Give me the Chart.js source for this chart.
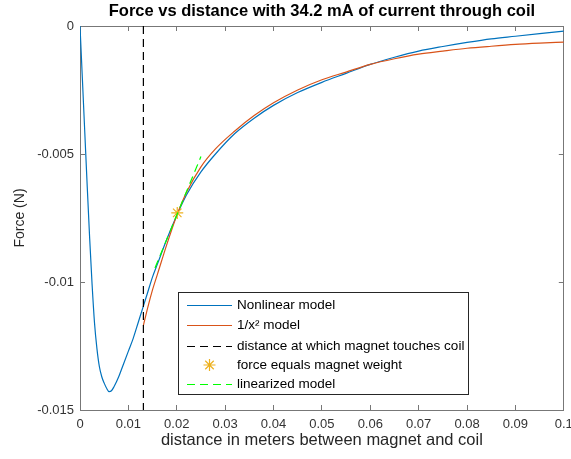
<!DOCTYPE html>
<html>
<head>
<meta charset="utf-8">
<title>Force vs distance</title>
<script src="https://cdn.jsdelivr.net/npm/chart.js@4.4.0/dist/chart.umd.min.js"></script>
<style>
  html, body { margin: 0; padding: 0; background: #fff; }
  canvas { display: block; }
</style>
</head>
<body>
<canvas id="chart_canvas" width="571" height="459"></canvas>
<script>
// values
var distNonlinear = [0, 0.0005, 0.001, 0.0015, 0.002, 0.0025, 0.003, 0.0035, 0.004, 0.0045, 0.005, 0.0055,
    0.006, 0.0065, 0.007, 0.008, 0.009, 0.010, 0.011, 0.012, 0.013, 0.014, 0.015, 0.016, 0.018, 0.020,
    0.022, 0.025, 0.028, 0.032, 0.036, 0.040, 0.045, 0.050, 0.055, 0.060, 0.065, 0.070, 0.075, 0.080,
    0.085, 0.090, 0.095, 0.100];
var forceNonlinear = [0, -0.0021, -0.0042, -0.0063, -0.0083, -0.0101, -0.0116, -0.0126, -0.0133, -0.0137, -0.01395, -0.01415,
    -0.01428, -0.01425, -0.0141, -0.0137, -0.0132, -0.0127, -0.0122, -0.0116, -0.0110, -0.0104, -0.0098, -0.0093, -0.0083, -0.0074,
    -0.0066, -0.0057, -0.0050, -0.0042, -0.0036, -0.0031, -0.0026, -0.0022, -0.00185, -0.0015, -0.00122, -0.00098, -0.0008, -0.00064,
    -0.0005, -0.0004, -0.0003, -0.0002];

var distInvSq = [0.0131, 0.014, 0.015, 0.016, 0.018, 0.020, 0.022, 0.025, 0.028, 0.032, 0.036, 0.040,
    0.045, 0.050, 0.055, 0.060, 0.065, 0.070, 0.075, 0.080, 0.085, 0.090, 0.095, 0.100];
var forceInvSq = [-0.0117, -0.0110, -0.0103, -0.0097, -0.0085, -0.0074, -0.0065, -0.0055, -0.0048, -0.0041, -0.0035, -0.0030,
    -0.0025, -0.0021, -0.0018, -0.0015, -0.00128, -0.0011, -0.00098, -0.00087, -0.00079, -0.00072, -0.00067, -0.00063];

var touchDist = [0.0131, 0.0131];
var touchForce = [0, -0.015];

var weightDist = [0.0201];
var weightForce = [-0.0073];

var linDist = [0.0155, 0.025];
var linForce = [-0.00945, -0.0051];

var xTickValues = [0, 0.01, 0.02, 0.03, 0.04, 0.05, 0.06, 0.07, 0.08, 0.09, 0.1];
var xTickLabels = ['0', '0.01', '0.02', '0.03', '0.04', '0.05', '0.06', '0.07', '0.08', '0.09', '0.1'];
var yTickValues = [-0.015, -0.01, -0.005, 0];
var yTickLabels = ['-0.015', '-0.01', '-0.005', '0'];

var labels = ['Nonlinear model', '1/x\u00B2 model', 'distance at which magnet touches coil',
    'force equals magnet weight', 'linearized model'];

function pts(xs, ys){
    return xs.map(function(x, i){ return {x: x, y: ys[i]}; });
}

var FONT = '"Liberation Sans", Arial, sans-serif';
var AXIS = '#777777';

function setTicks(values){
    return function(scale){
        scale.ticks = values.map(function(v){ return {value: v}; });
    };
}

function fixSize(w, h){
    return function(s){
        if (w !== null) s.width = w;
        if (h !== null) s.height = h;
        s.paddingLeft = 0; s.paddingRight = 0;
        s.paddingTop = 0; s.paddingBottom = 0;
    };
}

// MATLAB-like legend box inside the axes
var legendBox = {
    id: 'legendBox',
    afterDraw: function(chart){
        var ctx = chart.ctx;
        var rows = [305, 325, 346, 365, 384];
        ctx.save();
        ctx.fillStyle = '#fff';
        ctx.fillRect(178.5, 292.5, 290, 102);
        ctx.strokeStyle = '#262626';
        ctx.lineWidth = 1;
        ctx.strokeRect(178.5, 292.5, 290, 102);
        ctx.font = '13.5px ' + FONT;
        ctx.textBaseline = 'middle';
        ctx.textAlign = 'left';
        chart.data.datasets.forEach(function(ds, i){
            var y = rows[i];
            ctx.save();
            ctx.strokeStyle = ds.borderColor;
            ctx.lineWidth = ds.borderWidth;
            if (ds.showLine){
                ctx.setLineDash(ds.borderDash || []);
                ctx.beginPath();
                ctx.moveTo(187, y + 0.5);
                ctx.lineTo(232, y + 0.5);
                ctx.stroke();
            } else {
                Chart.helpers.drawPoint(ctx, {pointStyle: ds.pointStyle, radius: ds.pointRadius,
                    rotation: 0, borderWidth: ds.borderWidth}, 209.5, y);
            }
            ctx.restore();
            ctx.fillStyle = '#000';
            ctx.fillText(ds.label, 237, y);
        });
        ctx.restore();
    }
};

var canvas = document.getElementById('chart_canvas');
var force_chart = new Chart(canvas.getContext('2d'), {
    type: 'scatter',
    data: {
        datasets: [{
            label: labels[0],
            data: pts(distNonlinear, forceNonlinear),
            showLine: true,
            borderColor: '#0072BD',
            borderWidth: 1.2,
            pointRadius: 0,
            cubicInterpolationMode: 'monotone',
            order: 5
        }, {
            label: labels[1],
            data: pts(distInvSq, forceInvSq),
            showLine: true,
            borderColor: '#D95319',
            borderWidth: 1.2,
            pointRadius: 0,
            cubicInterpolationMode: 'monotone',
            order: 4
        }, {
            label: labels[2],
            data: pts(touchDist, touchForce),
            showLine: true,
            borderColor: '#000000',
            borderWidth: 1.2,
            borderDash: [8, 5],
            pointRadius: 0,
            order: 3
        }, {
            label: labels[3],
            data: pts(weightDist, weightForce),
            showLine: false,
            borderColor: '#EDB120',
            backgroundColor: '#EDB120',
            borderWidth: 1.2,
            pointStyle: 'star',
            pointRadius: 6,
            order: 2
        }, {
            label: labels[4],
            data: pts(linDist, linForce),
            showLine: true,
            borderColor: '#00FF00',
            borderWidth: 1.2,
            borderDash: [8, 5],
            pointRadius: 0,
            order: 1
        }]
    },
    options: {
        responsive: false,
        animation: false,
        events: [],
        layout: { padding: { left: 0, top: 0, bottom: 0, right: 7 } },
        plugins: {
            legend: { display: false },
            tooltip: { enabled: false },
            title: {
                display: true,
                fullSize: false,
                text: 'Force vs distance with 34.2 mA of current through coil',
                color: '#000',
                font: { family: FONT, size: 16.5, weight: 'bold', lineHeight: 1.2 },
                padding: { top: 1.5, bottom: 4.7 }
            }
        },
        scales: {
            x: {
                type: 'linear', position: 'bottom', min: 0, max: 0.1,
                afterBuildTicks: setTicks(xTickValues),
                afterFit: fixSize(null, 49),
                border: { display: true, color: AXIS, width: 1 },
                grid: { drawOnChartArea: false, drawTicks: true, tickLength: -5, color: AXIS },
                ticks: {
                    padding: 12, color: '#333', maxRotation: 0, autoSkip: false,
                    font: { family: FONT, size: 13, lineHeight: 1.2 },
                    callback: function(v, i){ return xTickLabels[i]; }
                },
                title: {
                    display: true, text: 'distance in meters between magnet and coil', color: '#262626',
                    font: { family: FONT, size: 16.5, lineHeight: 1.2 }, padding: { top: 0, bottom: 9 }
                }
            },
            xTop: {
                type: 'linear', position: 'top', min: 0, max: 0.1,
                afterBuildTicks: setTicks(xTickValues),
                afterFit: fixSize(null, 0),
                border: { display: true, color: AXIS, width: 1 },
                grid: { drawOnChartArea: false, drawTicks: true, tickLength: -5, color: AXIS },
                ticks: { display: false }
            },
            y: {
                type: 'linear', position: 'left', min: -0.015, max: 0,
                afterBuildTicks: setTicks(yTickValues),
                afterFit: fixSize(80, null),
                border: { display: true, color: AXIS, width: 1 },
                grid: { drawOnChartArea: false, drawTicks: true, tickLength: -5, color: AXIS },
                ticks: {
                    padding: 11, color: '#333', autoSkip: false,
                    font: { family: FONT, size: 13, lineHeight: 1.2 },
                    callback: function(v, i){ return yTickLabels[i]; }
                },
                title: {
                    display: true, text: 'Force (N)', color: '#262626',
                    font: { family: FONT, size: 14, lineHeight: 1.2 }, padding: { top: 11.6, bottom: 0 }
                }
            },
            yRight: {
                type: 'linear', position: 'right', min: -0.015, max: 0,
                afterBuildTicks: setTicks(yTickValues),
                afterFit: fixSize(0, null),
                border: { display: true, color: AXIS, width: 1 },
                grid: { drawOnChartArea: false, drawTicks: true, tickLength: -5, color: AXIS },
                ticks: { display: false }
            }
        }
    },
    plugins: [legendBox]
});
</script>
</body>
</html>
